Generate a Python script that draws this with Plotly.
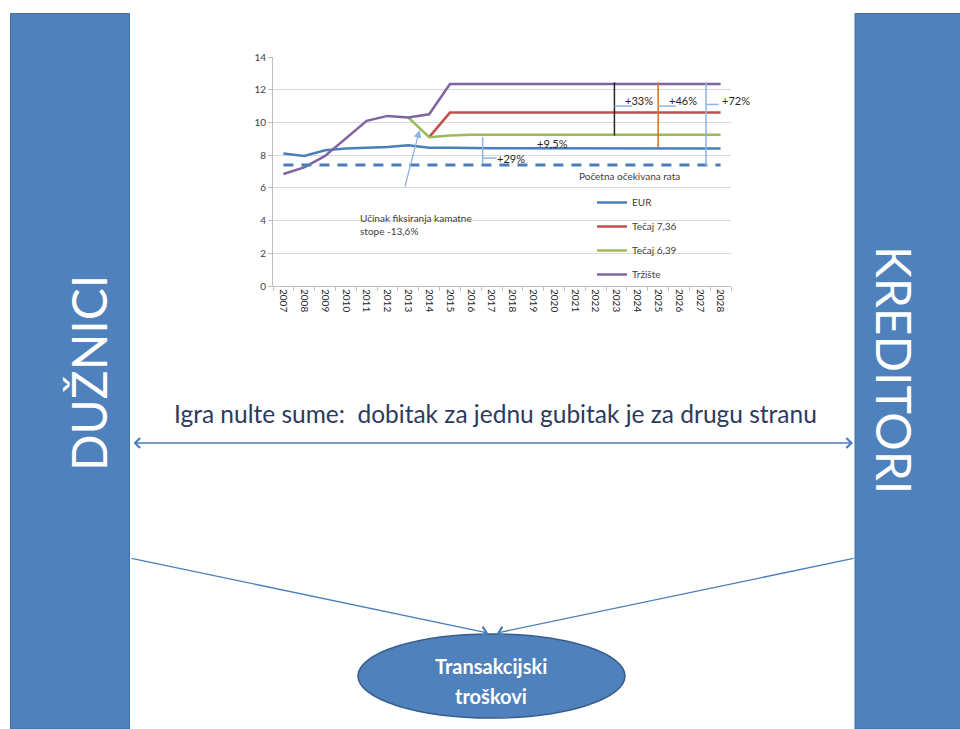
import plotly.graph_objects as go

W, H = 960, 729

years = list(range(2007, 2029))
eur = [8.1, 7.95, 8.3, 8.4, 8.45, 8.5, 8.6, 8.45, 8.45, 8.42, 8.42, 8.42, 8.42, 8.4, 8.4,
       8.4, 8.4, 8.4, 8.4, 8.4, 8.4, 8.4]
tecaj_736 = [None] * 7 + [9.1] + [10.6] * 14
tecaj_639 = [None] * 6 + [10.3, 9.1, 9.2] + [9.25] * 13
trziste = [6.85, 7.25, 7.95, 9.05, 10.1, 10.4, 10.3, 10.5] + [12.35] * 14
pocetna = [7.4] * 22

series_names = ["EUR", "Tečaj 7,36", "Tečaj 6,39", "Tržište"]
series_vals = [eur, tecaj_736, tecaj_639, trziste]
series_colors = ["#4A7EBB", "#C0504D", "#9BBB59", "#8064A2"]

# brackets: x position (year), bottom, top, colour, label, label x, label y
bracket_x = [2016.57, 2022.9, 2025.0, 2027.3]
bracket_lo = [7.5, 9.2, 8.5, 7.3]
bracket_hi = [9.1, 12.45, 12.45, 12.45]
bracket_col = ["#8DB4E2", "#262626", "#E46C0A", "#8DB4E2"]
bracket_lbl = ["+29%", "+33%", "+46%", "+72%"]
bracket_lbl_x = [2017.95, 2024.1, 2026.2, 2028.75]
bracket_lbl_y = [7.82, 11.37, 11.37, 11.37]
tick_y = [7.82, 11.0, 11.0, 11.1]
tick_len = [0.67, 0.85, 0.85, 0.6]

X0_PX, X1_PX = 273, 731   # plot area horizontal pixel extent
Y_TOP_PX, Y_BOT_PX = 57, 286
X_MIN, X_MAX = 2006.5, 2028.5


def px(x):
    return x / W


def py(y):
    return 1 - y / H


def year_to_paper(v):
    return px(X0_PX + (v - X_MIN) / (X_MAX - X_MIN) * (X1_PX - X0_PX))


fig = go.Figure()

for name, vals, col in zip(series_names, series_vals, series_colors):
    fig.add_trace(go.Scatter(x=years, y=vals, mode="lines", name=name, legendgroup=name,
                             line=dict(color=col, width=2.5), connectgaps=False))
fig.add_trace(go.Scatter(x=years, y=pocetna, mode="lines", showlegend=False,
                         line=dict(color="#4A7EBB", width=3, dash="10px,8px")))

shapes = []
annotations = []

# side bars
shapes.append(dict(type="rect", xref="paper", yref="paper", x0=px(10.5), x1=px(129.5),
                   y0=py(729), y1=py(13.5), fillcolor="#4F81BD",
                   line=dict(color="#41719C", width=1), layer="below"))
shapes.append(dict(type="rect", xref="paper", yref="paper", x0=px(855), x1=px(961),
                   y0=py(729), y1=py(13.5), fillcolor="#4F81BD",
                   line=dict(color="#41719C", width=1), layer="below"))

# ellipse
shapes.append(dict(type="circle", xref="paper", yref="paper", x0=px(358), x1=px(625),
                   y0=py(718), y1=py(634), fillcolor="#4F81BD",
                   line=dict(color="#385D8A", width=1.5)))

# brackets in chart
for bx, lo, hi, col, lbl, lx, ly, ty, tl in zip(bracket_x, bracket_lo, bracket_hi, bracket_col,
                                               bracket_lbl, bracket_lbl_x, bracket_lbl_y, tick_y, tick_len):
    shapes.append(dict(type="line", xref="x", yref="y", x0=bx, x1=bx, y0=lo, y1=hi,
                       line=dict(color=col, width=1.5)))
    shapes.append(dict(type="line", xref="x", yref="y", x0=bx, x1=bx + tl, y0=ty, y1=ty,
                       line=dict(color="#8DB4E2", width=1.5)))
    annotations.append(dict(x=year_to_paper(lx), y=ly, xref="paper", yref="y", text=lbl,
                            showarrow=False, xanchor="center", yanchor="middle",
                            font=dict(family="Lato", size=11, color="#262626")))

annotations.append(dict(x=2019.93, y=8.74, xref="x", yref="y", text="+9,5%", showarrow=False,
                        xanchor="center", yanchor="middle",
                        font=dict(family="Lato", size=11, color="#262626")))
annotations.append(dict(x=2021.09, y=6.72, xref="x", yref="y", text="Početna očekivana rata",
                        showarrow=False, xanchor="left", yanchor="middle",
                        font=dict(family="Lato", size=10, color="#404040")))
annotations.append(dict(x=2010.56, y=3.76, xref="x", yref="y",
                        text="Učinak fiksiranja kamatne<br>stope -13,6%", showarrow=False,
                        xanchor="left", yanchor="middle", align="left",
                        font=dict(family="Lato", size=10, color="#404040")))
# arrow to fixing effect
annotations.append(dict(x=2013.54, y=9.54, xref="x", yref="y", ax=2012.82, ay=5.99,
                        axref="x", ayref="y", text="", showarrow=True, arrowhead=2,
                        arrowsize=1.2, arrowwidth=1.3, arrowcolor="#8DB4E2"))

# big side labels
annotations.append(dict(x=px(88), y=py(373), xref="paper", yref="paper", text="DUŽNICI",
                        textangle=-90, showarrow=False, xanchor="center", yanchor="middle",
                        font=dict(family="Lato", size=48, color="white")))
annotations.append(dict(x=px(895), y=py(370), xref="paper", yref="paper", text="KREDITORI",
                        textangle=90, showarrow=False, xanchor="center", yanchor="middle",
                        font=dict(family="Lato", size=48, color="white")))

# zero-sum text
annotations.append(dict(x=px(495), y=py(413), xref="paper", yref="paper",
                        text="Igra nulte sume:\u00a0 dobitak za jednu gubitak je za drugu stranu",
                        showarrow=False, xanchor="center", yanchor="middle",
                        font=dict(family="Lato", size=24.5, color="#2E3A5C")))

# double arrow (offsets in pixels)
annotations.append(dict(x=px(853), y=py(443), ax=132 - 853, ay=0, xref="paper", yref="paper",
                        text="", showarrow=True,
                        arrowhead=4, startarrowhead=4, arrowside="end+start",
                        arrowsize=1.5, startarrowsize=1.5, arrowwidth=1.3, arrowcolor="#4A7EBB"))

# lines to transaction costs
annotations.append(dict(x=px(488), y=py(633), ax=130 - 488, ay=558 - 633, xref="paper",
                        yref="paper", text="", showarrow=True, arrowhead=4,
                        arrowsize=1.5, arrowwidth=1.3, arrowcolor="#4A7EBB"))
annotations.append(dict(x=px(497), y=py(633), ax=855 - 497, ay=558 - 633, xref="paper",
                        yref="paper", text="", showarrow=True, arrowhead=4,
                        arrowsize=1.5, arrowwidth=1.3, arrowcolor="#4A7EBB"))

annotations.append(dict(x=px(491), y=py(666), xref="paper", yref="paper", text="<b>Transakcijski</b>",
                        showarrow=False, xanchor="center", yanchor="middle",
                        font=dict(family="Lato", size=20, color="white")))
annotations.append(dict(x=px(491), y=py(696), xref="paper", yref="paper", text="<b>troškovi</b>",
                        showarrow=False, xanchor="center", yanchor="middle",
                        font=dict(family="Lato", size=20, color="white")))

fig.update_layout(
    width=W, height=H,
    margin=dict(l=0, r=0, t=0, b=0, autoexpand=False),
    paper_bgcolor="white", plot_bgcolor="white",
    shapes=shapes, annotations=annotations,
    xaxis=dict(domain=[px(X0_PX), px(X1_PX)], range=[X_MIN, X_MAX], tickmode="array",
               tickvals=years, ticktext=[str(y) for y in years], tickangle=90, automargin=False,
               showgrid=False, zeroline=False, showline=True, linecolor="#BFBFBF", linewidth=1,
               ticks="", tickfont=dict(family="Lato", size=10, color="#262626"),
               minor=dict(tick0=2006.5, dtick=1, ticks="outside", ticklen=4,
                          tickcolor="#BFBFBF", showgrid=False)),
    yaxis=dict(domain=[py(Y_BOT_PX), py(Y_TOP_PX)], range=[0, 14], dtick=2, showgrid=True,
               gridcolor="#D9D9D9", zeroline=False, showline=True, linecolor="#BFBFBF",
               ticks="outside", ticklen=4, tickcolor="#BFBFBF", automargin=False,
               tickfont=dict(family="Lato", size=10, color="#404040")),
    legend=dict(x=px(592), y=py(188), xanchor="left", yanchor="top", bgcolor="rgba(0,0,0,0)",
                font=dict(family="Lato", size=10, color="#404040"), tracegroupgap=5,
                itemwidth=30),
    showlegend=True,
)

fig.write_html("out.html")
